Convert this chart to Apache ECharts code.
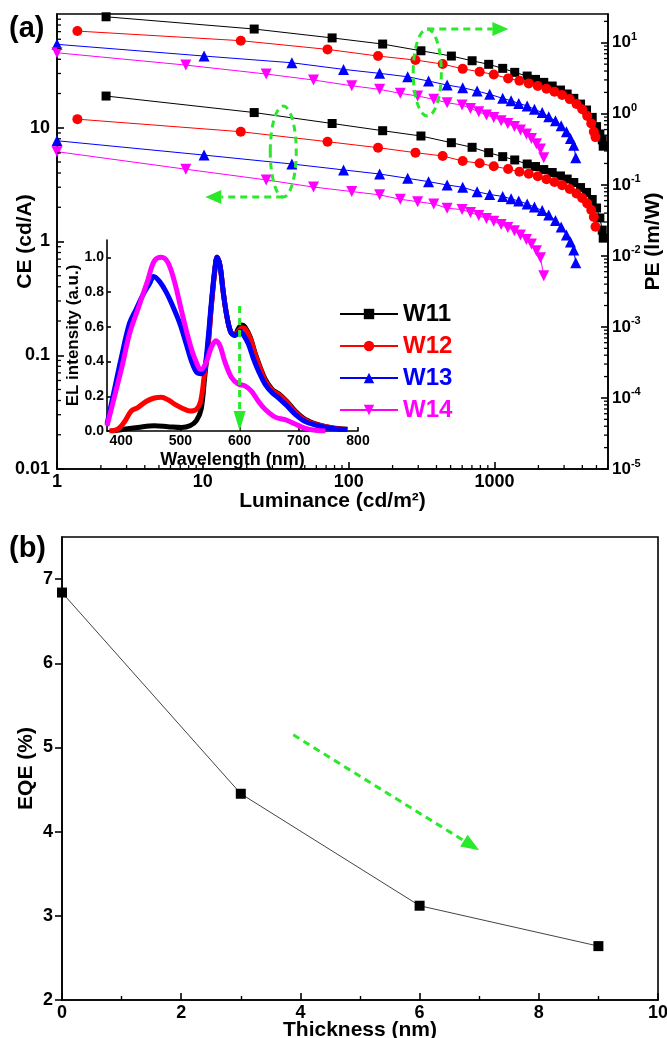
<!DOCTYPE html>
<html><head><meta charset="utf-8">
<script src="https://cdn.jsdelivr.net/npm/echarts@6.0.0/dist/echarts.min.js"></script>
<style>html,body{margin:0;padding:0;background:#fff}#c{width:667px;height:1038px}</style>
</head><body><div id="c"></div>
<script>
// ---------- DATA ----------
// (a) luminance (cd/m2), current efficiency CE (cd/A), power efficiency PE (lm/W)
const W11_L  = [2.17, 22.5, 77, 171, 313, 506, 702, 912, 1138, 1376, 1675, 1910, 2176, 2486, 2833, 3149, 3497, 3890, 4276, 4677, 5008, 5276, 5479, 5564];
const W11_CE = [19.0, 13.6, 10.9, 9.42, 8.46, 7.39, 6.73, 6.04, 5.57, 5.21, 4.80, 4.56, 4.29, 4.04, 3.77, 3.54, 3.30, 2.98, 2.70, 2.34, 1.97, 1.61, 1.26, 1.07];
const W11_PE = [23.2, 15.6, 11.7, 9.59, 7.71, 6.50, 5.58, 4.97, 4.36, 3.83, 3.40, 3.05, 2.77, 2.46, 2.16, 1.90, 1.65, 1.37, 1.13, 0.89, 0.66, 0.52, 0.43, 0.35];

const W12_L  = [1.38, 18.2, 71.6, 159, 287, 441, 605, 791, 988, 1240, 1482, 1717, 1980, 2272, 2577, 2909, 3281, 3648, 3992, 4322, 4605, 4797, 4926];
const W12_CE = [11.9, 9.23, 7.54, 6.68, 6.04, 5.65, 5.10, 4.87, 4.58, 4.34, 4.10, 3.94, 3.74, 3.53, 3.33, 3.13, 2.89, 2.64, 2.41, 2.16, 1.89, 1.64, 1.35];
const W12_PE = [14.6, 10.7, 8.07, 6.50, 5.71, 5.01, 4.29, 3.91, 3.57, 3.15, 2.92, 2.68, 2.46, 2.25, 2.04, 1.84, 1.61, 1.37, 1.16, 0.93, 0.73, 0.56, 0.47];

const W13_L  = [1.0, 10.2, 40.8, 92.2, 163, 254, 353, 473, 605, 760, 927, 1138, 1300, 1466, 1675, 1879, 2122, 2355, 2618, 2864, 3114, 3316, 3494, 3607];
const W13_CE = [7.69, 5.75, 4.80, 4.26, 3.92, 3.59, 3.36, 3.14, 3.00, 2.74, 2.59, 2.49, 2.37, 2.27, 2.14, 2.01, 1.87, 1.71, 1.53, 1.34, 1.14, 0.99, 0.84, 0.65];
const W13_PE = [9.50, 6.50, 5.23, 4.22, 3.71, 3.32, 2.89, 2.54, 2.33, 2.09, 1.88, 1.65, 1.53, 1.40, 1.29, 1.16, 1.04, 0.91, 0.80, 0.68, 0.56, 0.45, 0.36, 0.24];

const W14_L  = [1.0, 7.64, 27.2, 57.4, 105, 163, 226, 297, 383, 473, 599, 684, 780, 880, 988, 1110, 1233, 1370, 1506, 1656, 1792, 1939, 2066, 2176];
const W14_CE = [6.16, 4.32, 3.48, 3.01, 2.75, 2.57, 2.35, 2.24, 2.14, 1.96, 1.91, 1.80, 1.69, 1.59, 1.51, 1.41, 1.33, 1.24, 1.14, 1.04, 0.95, 0.83, 0.72, 0.50];
const W14_PE = [7.23, 4.85, 3.63, 2.99, 2.48, 2.21, 1.94, 1.78, 1.60, 1.43, 1.33, 1.19, 1.07, 0.96, 0.89, 0.80, 0.73, 0.66, 0.59, 0.52, 0.45, 0.38, 0.32, 0.24];

// inset: EL spectra, wavelength (nm) and normalized intensity
const EL11_WL = [383, 405, 428, 456, 479, 502, 516, 527, 535, 541, 547, 552, 558, 562, 567, 572, 578, 585, 592, 598, 604, 609, 618, 626, 635, 643, 655, 666, 680, 694, 711, 734, 756, 782];
const EL11_I  = [0, 0.01, 0.02, 0.03, 0.025, 0.02, 0.03, 0.06, 0.125, 0.31, 0.50, 0.71, 0.92, 1.0, 0.95, 0.81, 0.67, 0.57, 0.555, 0.59, 0.61, 0.60, 0.54, 0.45, 0.365, 0.30, 0.24, 0.215, 0.17, 0.115, 0.067, 0.035, 0.019, 0.01];
const EL12_WL = [380, 394, 405, 417, 428, 442, 456, 468, 479, 490, 504, 516, 527, 534, 540, 547, 552, 558, 562, 567, 572, 578, 585, 592, 598, 604, 609, 618, 626, 635, 643, 655, 666, 680, 694, 711, 734, 756, 782];
const EL12_I  = [0, 0.01, 0.05, 0.115, 0.135, 0.17, 0.19, 0.195, 0.18, 0.155, 0.13, 0.115, 0.125, 0.17, 0.31, 0.50, 0.71, 0.92, 1.0, 0.95, 0.81, 0.67, 0.57, 0.55, 0.575, 0.595, 0.59, 0.535, 0.445, 0.36, 0.29, 0.235, 0.21, 0.165, 0.11, 0.063, 0.033, 0.018, 0.009];
const EL13_WL = [376, 388, 400, 414, 425, 436, 448, 455, 465, 476, 487, 499, 510, 519, 527, 535, 541, 547, 552, 558, 562, 567, 572, 578, 585, 592, 601, 606, 615, 623, 632, 643, 655, 666, 680, 694, 711, 734, 756, 782];
const EL13_I  = [0.04, 0.23, 0.42, 0.62, 0.70, 0.78, 0.85, 0.89, 0.86, 0.80, 0.72, 0.62, 0.50, 0.40, 0.34, 0.33, 0.36, 0.54, 0.73, 0.93, 1.0, 0.95, 0.81, 0.67, 0.57, 0.55, 0.575, 0.556, 0.50, 0.42, 0.345, 0.27, 0.22, 0.19, 0.145, 0.096, 0.054, 0.029, 0.015, 0.008];
const EL14_WL = [376, 388, 402, 414, 428, 445, 456, 468, 479, 490, 502, 513, 524, 535, 544, 552, 560, 567, 575, 586, 598, 609, 620, 632, 643, 660, 677, 694, 711, 728, 745];
const EL14_I  = [0.03, 0.19, 0.38, 0.56, 0.70, 0.87, 0.98, 1.0, 0.97, 0.86, 0.69, 0.54, 0.42, 0.355, 0.40, 0.48, 0.52, 0.49, 0.40, 0.31, 0.27, 0.26, 0.23, 0.17, 0.125, 0.08, 0.065, 0.04, 0.015, 0.004, 0];

// (b) EQE vs thickness
const THICKNESS = [0, 3, 6, 9];
const EQE = [6.84, 4.45, 3.12, 2.64];

// tick labels
const WL_TICKS = [400, 500, 600, 700, 800];
const EL_TICKS = [0, 0.2, 0.4, 0.6, 0.8, 1.0];
const NAMES = ['W11', 'W12', 'W13', 'W14'];
const COLORS = ['#000000', '#ff0000', '#0000ff', '#ff00ff'];

// ---------- helpers ----------
const FONT = "'Liberation Sans', Arial, Helvetica, sans-serif";
const GREEN = '#2ae82a';
function minorLog(decades, maxV) {
  const out = [];
  decades.forEach(d => { for (let m = 2; m <= 9; m++) { const v = m * d; if (v <= maxV * 1.0001) out.push(v); } });
  return out;
}
const LUM_MINOR = minorLog([1, 10, 100, 1000], 6000);
const CE_MINOR = minorLog([0.01, 0.1, 1, 10], 100);
const PE_MINOR = minorLog([1e-5, 1e-4, 1e-3, 1e-2, 1e-1, 1, 10], 25.4);

function isDecade(v) { const e = Math.log10(v); return Math.abs(e - Math.round(e)) < 1e-6; }
function decFmt(v) { return isDecade(v) ? String(parseFloat(v.toPrecision(3))) : ''; }
function supFmt(v) { return isDecade(v) ? '{b|10}{s|' + Math.round(Math.log10(v)) + '}' : ''; }

const AX = { color: '#000', width: 1.6 };
const lab = (size, extra) => Object.assign({ color: '#000', fontFamily: FONT, fontWeight: 'bold', fontSize: size }, extra || {});
const nameStyle = (size) => ({ color: '#000', fontFamily: FONT, fontWeight: 'bold', fontSize: size });

function topSeries(name, L, V, color, symbol, rot, yIdx, size) {
  return {
    name: name, type: 'line', xAxisIndex: 0, yAxisIndex: yIdx,
    data: L.map((x, i) => [x, V[i]]),
    symbol: symbol, symbolRotate: rot, symbolSize: size, showSymbol: true,
    itemStyle: { color: color }, lineStyle: { color: color, width: 1 },
    z: 3
  };
}
function elSeries(WL, I, color) {
  return {
    name: 'EL', type: 'line', xAxisIndex: 1, yAxisIndex: 2,
    data: WL.map((x, i) => [x, I[i]]), showSymbol: false, smooth: 0.35,
    lineStyle: { color: color, width: 5 }, itemStyle: { color: color }, z: 3
  };
}
function tickSeries(xi, yi, vals, fn) {
  return {
    type: 'custom', xAxisIndex: xi, yAxisIndex: yi, silent: true, z: 4,
    data: vals.map(v => [v]),
    renderItem: (params, api) => fn(api.value(0), api)
  };
}

const chart = echarts.init(document.getElementById('c'), null, { renderer: 'canvas' });

const option = {
  animation: false,
  backgroundColor: '#fff',
  title: [
    { text: '(a)', left: 9, top: 14, padding: 0, textStyle: { fontFamily: FONT, fontWeight: 'bold', fontSize: 29, color: '#000' } },
    { text: '(b)', left: 9, top: 534, padding: 0, textStyle: { fontFamily: FONT, fontWeight: 'bold', fontSize: 29, color: '#000' } }
  ],
  legend: {
    data: NAMES.map((n, i) => ({ name: n, textStyle: { color: COLORS[i] } })),
    orient: 'vertical', left: 339, top: 302, itemWidth: 58, itemHeight: 13, itemGap: 8,
    padding: 0, selectedMode: false,
    textStyle: { fontFamily: FONT, fontWeight: 'bold', fontSize: 24 }
  },
  grid: [
    { left: 57, right: 59, top: 14, bottom: 569, show: true, borderColor: '#000', borderWidth: 1.6, backgroundColor: 'transparent', containLabel: false, outerBoundsMode: 'none' },
    { left: 107, right: 309, top: 240, bottom: 607, show: false, containLabel: false, outerBoundsMode: 'none' },
    { left: 62, right: 9, top: 537, bottom: 38, show: true, borderColor: '#000', borderWidth: 1.6, backgroundColor: 'transparent', containLabel: false, outerBoundsMode: 'none' }
  ],
  xAxis: [
    { type: 'log', logBase: 10, gridIndex: 0, min: 1, max: 6000,
      axisLine: { show: true, onZero: false, lineStyle: AX },
      axisTick: { show: true, inside: true, length: 7, lineStyle: AX },
      axisLabel: lab(18, { margin: 4, formatter: decFmt, showMaxLabel: false, showMinLabel: true }),
      splitLine: { show: false },
      name: 'Luminance (cd/m²)', nameLocation: 'middle', nameGap: 22, nameMoveOverlap: false, nameTextStyle: nameStyle(21) },
    { type: 'value', gridIndex: 1, min: 376, max: 800,
      axisLine: { show: true, onZero: false, lineStyle: AX },
      axisTick: { show: true, inside: true, length: 4, lineStyle: AX, customValues: WL_TICKS },
      axisLabel: lab(14, { margin: 3, customValues: WL_TICKS }),
      splitLine: { show: false },
      name: 'Wavelength (nm)', nameLocation: 'middle', nameGap: 20, nameMoveOverlap: false, nameTextStyle: nameStyle(18) },
    { type: 'value', gridIndex: 2, min: 0, max: 10, interval: 2,
      axisLine: { show: true, onZero: false, lineStyle: AX },
      axisTick: { show: true, inside: true, length: 7, lineStyle: AX },
      minorTick: { show: true, splitNumber: 2, length: 4, lineStyle: { color: '#000', width: 1.4 } },
      axisLabel: lab(18, { margin: 4 }),
      splitLine: { show: false },
      name: 'Thickness (nm)', nameLocation: 'middle', nameGap: 20, nameMoveOverlap: false, nameTextStyle: nameStyle(21) }
  ],
  yAxis: [
    { type: 'log', logBase: 10, gridIndex: 0, min: 0.01, max: 100, position: 'left',
      axisLine: { show: true, onZero: false, lineStyle: AX },
      axisTick: { show: true, inside: true, length: 7, lineStyle: AX },
      axisLabel: lab(18, { margin: 7, formatter: decFmt, showMaxLabel: false }),
      splitLine: { show: false },
      name: 'CE (cd/A)', nameLocation: 'middle', nameRotate: 90, nameGap: 21, nameMoveOverlap: false, nameTextStyle: nameStyle(21) },
    { type: 'log', logBase: 10, gridIndex: 0, min: 1e-5, max: 25.4, position: 'right',
      axisLine: { show: true, onZero: false, lineStyle: AX },
      axisTick: { show: true, inside: true, length: 7, lineStyle: AX },
      axisLabel: { margin: 4, formatter: supFmt, showMaxLabel: false,
        rich: { b: { color: '#000', fontFamily: FONT, fontWeight: 'bold', fontSize: 17, lineHeight: 22 },
                s: { color: '#000', fontFamily: FONT, fontWeight: 'bold', fontSize: 11, lineHeight: 10, verticalAlign: 'top' } } },
      splitLine: { show: false },
      name: 'PE (lm/W)', nameLocation: 'middle', nameRotate: 90, nameGap: 35, nameMoveOverlap: false, nameTextStyle: nameStyle(21) },
    { type: 'value', gridIndex: 1, min: 0, max: 1.1,
      axisLine: { show: true, onZero: false, lineStyle: AX },
      axisTick: { show: true, inside: true, length: 4, lineStyle: AX, customValues: EL_TICKS },
      axisLabel: lab(14, { margin: 3, customValues: EL_TICKS, formatter: v => Number(v).toFixed(1) }),
      splitLine: { show: false },
      name: 'EL intensity (a.u.)', nameLocation: 'middle', nameRotate: 90, nameGap: 25, nameMoveOverlap: false, nameTextStyle: nameStyle(17) },
    { type: 'value', gridIndex: 2, min: 2, max: 7.5, interval: 1,
      axisLine: { show: true, onZero: false, lineStyle: AX },
      axisTick: { show: true, inside: false, length: 7, lineStyle: AX },
      axisLabel: lab(18, { margin: 9, showMaxLabel: false }),
      splitLine: { show: false },
      name: 'EQE (%)', nameLocation: 'middle', nameRotate: 90, nameGap: 25, nameMoveOverlap: false, nameTextStyle: nameStyle(21) }
  ],
  series: [
    topSeries('W11', W11_L, W11_CE, COLORS[0], 'rect', 0, 0, 9),
    topSeries('W12', W12_L, W12_CE, COLORS[1], 'circle', 0, 0, 10),
    topSeries('W13', W13_L, W13_CE, COLORS[2], 'triangle', 0, 0, 11),
    topSeries('W14', W14_L, W14_CE, COLORS[3], 'triangle', 180, 0, 11),
    topSeries('W11 PE', W11_L, W11_PE, COLORS[0], 'rect', 0, 1, 9),
    topSeries('W12 PE', W12_L, W12_PE, COLORS[1], 'circle', 0, 1, 10),
    topSeries('W13 PE', W13_L, W13_PE, COLORS[2], 'triangle', 0, 1, 11),
    topSeries('W14 PE', W14_L, W14_PE, COLORS[3], 'triangle', 180, 1, 11),
    elSeries(EL11_WL, EL11_I, COLORS[0]),
    elSeries(EL12_WL, EL12_I, COLORS[1]),
    elSeries(EL13_WL, EL13_I, COLORS[2]),
    elSeries(EL14_WL, EL14_I, COLORS[3]),
    { name: 'EQE', type: 'line', xAxisIndex: 2, yAxisIndex: 3,
      data: THICKNESS.map((t, i) => [t, EQE[i]]), symbol: 'rect', symbolSize: 10,
      itemStyle: { color: '#000' }, lineStyle: { color: '#444', width: 1 } },
    // log minor ticks
    tickSeries(0, 0, LUM_MINOR, (v, api) => { const p = api.coord([v, 0.01]); return { type: 'line', shape: { x1: p[0], y1: p[1], x2: p[0], y2: p[1] - 4 }, style: { stroke: '#000', lineWidth: 1.3 } }; }),
    tickSeries(0, 0, CE_MINOR, (v, api) => { const p = api.coord([1, v]); return { type: 'line', shape: { x1: p[0], y1: p[1], x2: p[0] + 4, y2: p[1] }, style: { stroke: '#000', lineWidth: 1.3 } }; }),
    tickSeries(0, 1, PE_MINOR, (v, api) => { const p = api.coord([6000, v]); return { type: 'line', shape: { x1: p[0], y1: p[1], x2: p[0] - 4, y2: p[1] }, style: { stroke: '#000', lineWidth: 1.3 } }; })
  ]
};
chart.setOption(option);

// ---------- green dashed annotations, anchored through the axes ----------
const px = (xi, v) => chart.convertToPixel({ xAxisIndex: xi }, v);
const py = (yi, v) => chart.convertToPixel({ yAxisIndex: yi }, v);
const dash = { stroke: GREEN, lineWidth: 3, lineDash: [7, 5], fill: null };
function arrow(p1, p2, len, hw) {
  const dx = p2[0] - p1[0], dy = p2[1] - p1[1], d = Math.hypot(dx, dy);
  const ux = dx / d, uy = dy / d, bx = p2[0] - ux * len, by = p2[1] - uy * len;
  return [
    { type: 'line', silent: true, z: 50, shape: { x1: p1[0], y1: p1[1], x2: bx, y2: by }, style: dash },
    { type: 'polygon', silent: true, z: 50, shape: { points: [[p2[0], p2[1]], [bx - uy * hw, by + ux * hw], [bx + uy * hw, by - ux * hw]] }, style: { fill: GREEN } }
  ];
}
function oval(xi, yi, x0, x1, y0, y1) {
  const a = px(xi, x0), b = px(xi, x1), c = py(yi, y0), d = py(yi, y1);
  return { type: 'ellipse', silent: true, z: 50, shape: { cx: (a + b) / 2, cy: (c + d) / 2, rx: Math.abs(b - a) / 2, ry: Math.abs(d - c) / 2 }, style: dash };
}
const g = [];
// PE loop -> right
g.push(oval(0, 1, 277, 432, 15.6, 0.93));
g.push(...arrow([px(0, 346), py(1, 15.6)], [px(0, 1245), py(1, 15.6)], 16, 7));
// CE loop -> left
g.push(oval(0, 0, 29, 43.7, 15.5, 2.46));
g.push(...arrow([px(0, 35.6), py(0, 2.46)], [px(0, 10.4), py(0, 2.46)], 16, 7));
// inset arrow at 600 nm
g.push(...arrow([px(1, 600), py(2, 0.72)], [px(1, 600), py(2, 0)], 20, 6));
// (b) trend arrow
g.push(...arrow([px(2, 3.88), py(3, 5.15)], [px(2, 7.0), py(3, 3.78)], 18, 7));
chart.setOption({ graphic: g });
</script></body></html>
